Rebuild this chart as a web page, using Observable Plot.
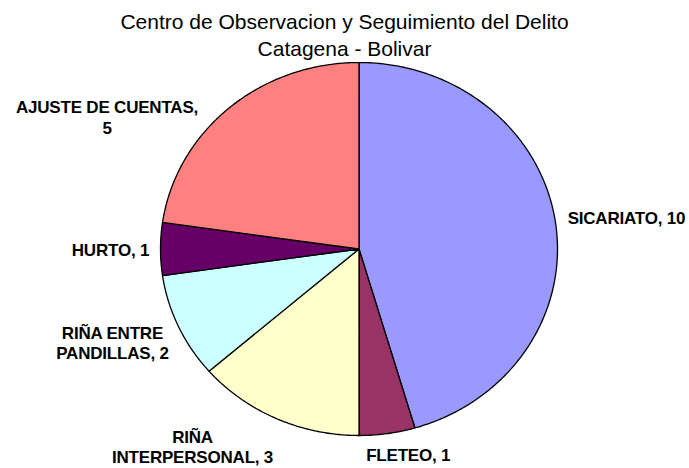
<!DOCTYPE html>
<html>
<head>
<meta charset="utf-8">
<script src="https://cdn.jsdelivr.net/npm/d3@7"></script>
<script src="https://cdn.jsdelivr.net/npm/@observablehq/plot@0.6"></script>
<style>
  html, body { margin: 0; padding: 0; background: #fff; }
  #title { width: 689px; height: 62px; box-sizing: border-box; padding-top: 8px;
    font-family: "Liberation Sans", Arial, sans-serif; font-size: 21px; line-height: 27px;
    text-align: center; color: #000; }
  #chart svg text { letter-spacing: -0.2px; }
</style>
</head>
<body>
<div id="title">Centro de Observacion y Seguimiento del Delito<br>Catagena - Bolivar</div>
<div id="chart"></div>
<script>
const categories = ["SICARIATO", "FLETEO", "RIÑA INTERPERSONAL", "RIÑA ENTRE PANDILLAS", "HURTO", "AJUSTE DE CUENTAS"];
const values = [10, 1, 3, 2, 1, 5];
const labels = ["SICARIATO, 10", "FLETEO, 1", "RIÑA\nINTERPERSONAL, 3", "RIÑA ENTRE\nPANDILLAS, 2", "HURTO, 1", "AJUSTE DE CUENTAS,\n5"];
const colors = ["#9999FF", "#993366", "#FFFFCC", "#CCFFFF", "#660066", "#FF8080"];

// label layout offsets (pixels) from the slice's mid-angle point on the rim
const labelOffsets = [[71, -5], [21, 21], [-84, 28], [-66, 16], [-50, 0], [-122, 9]];

const arcs = d3.pie().sort(null).startAngle(0).endAngle(2 * Math.PI)(values);

const points = [];
arcs.forEach((a, i) => {
  const name = categories[i];
  points.push({name, x: 0, y: 0});
  const n = Math.max(2, Math.ceil((a.endAngle - a.startAngle) / (Math.PI / 360)));
  for (let k = 0; k <= n; k++) {
    const t = a.startAngle + (a.endAngle - a.startAngle) * k / n;
    points.push({name, x: Math.sin(t), y: Math.cos(t)});
  }
  points.push({name, x: 0, y: 0});
});

const labelData = arcs.map((a, i) => {
  const m = (a.startAngle + a.endAngle) / 2;
  return {name: categories[i], label: labels[i], x: Math.sin(m), y: Math.cos(m)};
});

const chart = Plot.plot({
  width: 689,
  height: 406,
  marginLeft: 160,
  marginRight: 132,
  marginTop: 0,
  marginBottom: 33,
  x: {domain: [-1, 1], axis: null},
  y: {domain: [-1, 1], axis: null},
  color: {domain: categories, range: colors},
  marks: [
    Plot.line(points, {x: "x", y: "y", z: "name", fill: "name", stroke: "black", strokeWidth: 1.3, curve: "linear"}),
    ...labelData.map((d, i) => Plot.text([d], {
      x: "x", y: "y", text: "label",
      dx: labelOffsets[i][0], dy: labelOffsets[i][1],
      textAnchor: "middle", lineAnchor: "middle", lineHeight: 1.2,
      fontSize: 17, fontWeight: "bold", fontFamily: "Liberation Sans, Arial, sans-serif", fill: "black"
    }))
  ]
});
document.getElementById("chart").append(chart);
</script>
</body>
</html>
